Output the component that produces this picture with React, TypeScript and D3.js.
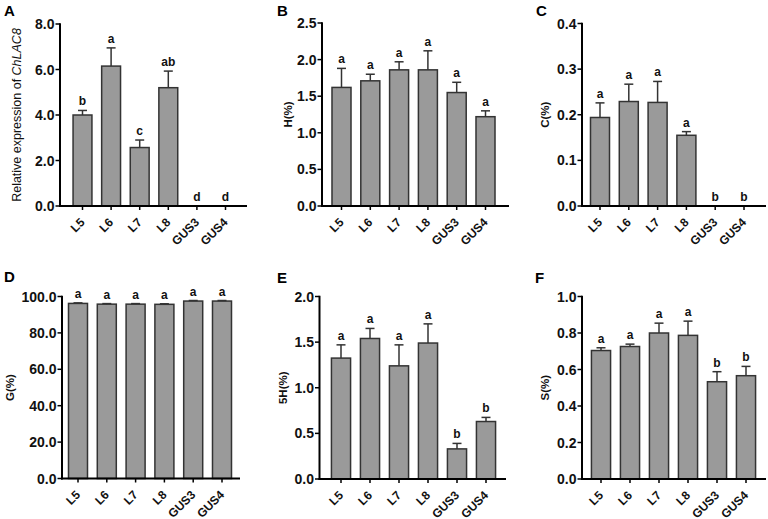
import React from "react";
import * as d3 from "d3";

const categories = ["L5", "L6", "L7", "L8", "GUS3", "GUS4"];

const aMeans = [4.0, 6.15, 2.57, 5.2, 0, 0];
const aErrs = [0.2, 0.8, 0.33, 0.73, 0, 0];
const aLetters = ["b", "a", "c", "ab", "d", "d"];
const aTicks = [0, 2, 4, 6, 8];

const bMeans = [1.62, 1.71, 1.86, 1.86, 1.55, 1.22];
const bErrs = [0.26, 0.09, 0.11, 0.26, 0.14, 0.08];
const bLetters = ["a", "a", "a", "a", "a", "a"];
const bTicks = [0, 0.5, 1.0, 1.5, 2.0, 2.5];

const cMeans = [0.194, 0.229, 0.227, 0.155, 0, 0];
const cErrs = [0.032, 0.038, 0.046, 0.008, 0, 0];
const cLetters = ["a", "a", "a", "a", "b", "b"];
const cTicks = [0, 0.1, 0.2, 0.3, 0.4];

const dMeans = [96.2, 95.8, 95.8, 95.7, 97.5, 97.5];
const dErrs = [0.3, 0.3, 0.3, 0.3, 0.3, 0.3];
const dLetters = ["a", "a", "a", "a", "a", "a"];
const dTicks = [0, 20, 40, 60, 80, 100];

const eMeans = [1.325, 1.54, 1.24, 1.49, 0.33, 0.63];
const eErrs = [0.145, 0.11, 0.23, 0.21, 0.06, 0.045];
const eLetters = ["a", "a", "a", "a", "b", "b"];
const eTicks = [0, 0.5, 1.0, 1.5, 2.0];

const fMeans = [0.704, 0.726, 0.8, 0.787, 0.533, 0.566];
const fErrs = [0.015, 0.013, 0.054, 0.078, 0.055, 0.051];
const fLetters = ["a", "a", "a", "a", "b", "b"];
const fTicks = [0, 0.2, 0.4, 0.6, 0.8, 1.0];

const FONT = "'Liberation Sans', Arial, sans-serif";
const BAR_FILL = "#9a9a9a";
const BAR_STROKE = "#333333";

type PanelProps = {
  label: string;
  title: React.ReactNode;
  means: number[];
  errs: number[];
  letters: string[];
  ticks: number[];
  axisX: number;
  axisEnd: number;
  yTop: number;
  yBottom: number;
  firstCenter: number;
  step: number;
  titleX: number;
  titleSize: number;
  titleWeight: string;
  labelX: number;
  labelY: number;
};

function Panel(p: PanelProps) {
  const maxV = p.ticks[p.ticks.length - 1];
  const y = d3.scaleLinear().domain([0, maxV]).range([p.yBottom, p.yTop]);
  const start = p.firstCenter - p.step / 2;
  const x = d3
    .scaleBand<string>()
    .domain(categories)
    .range([start, start + p.step * categories.length])
    .paddingInner(0.34)
    .paddingOuter(0.17);
  const bw = x.bandwidth();
  const fmt = d3.format(".1f");
  const capHalf = 4.5;
  return (
    <g fontFamily={FONT}>
      <text x={p.labelX} y={p.labelY} fontSize={15} fontWeight="bold" fill="#000">
        {p.label}
      </text>
      {categories.map((c, i) => {
        const cx = (x(c) as number) + bw / 2;
        const m = p.means[i];
        const e = p.errs[i];
        const top = y(m);
        const et = y(m + e);
        return (
          <g key={c}>
            {m > 0 && (
              <rect
                x={x(c) as number}
                y={top}
                width={bw}
                height={p.yBottom - top}
                fill={BAR_FILL}
                stroke={BAR_STROKE}
                strokeWidth={1.5}
              />
            )}
            {e > 0 && (
              <g stroke={BAR_STROKE} strokeWidth={1.5}>
                <line x1={cx} x2={cx} y1={top} y2={et} />
                <line x1={cx - capHalf} x2={cx + capHalf} y1={et} y2={et} />
              </g>
            )}
            <text
              x={cx}
              y={(m > 0 ? et : p.yBottom) - 5}
              textAnchor="middle"
              fontSize={12}
              fontWeight="bold"
              fill="#111"
            >
              {p.letters[i]}
            </text>
            <line x1={cx} x2={cx} y1={p.yBottom} y2={p.yBottom + 4} stroke="#000" strokeWidth={1.5} />
            <text
              transform={`translate(${cx + 3},${p.yBottom + 17}) rotate(-45)`}
              textAnchor="end"
              fontSize={12}
              fontWeight="bold"
              fill="#111"
            >
              {c}
            </text>
          </g>
        );
      })}
      {p.ticks.map((t) => (
        <g key={t}>
          <line x1={p.axisX - 4.5} x2={p.axisX} y1={y(t)} y2={y(t)} stroke="#000" strokeWidth={1.5} />
          <text
            x={p.axisX - 5.5}
            y={y(t)}
            dy="0.36em"
            textAnchor="end"
            fontSize={14}
            fontWeight="bold"
            fill="#111"
          >
            {fmt(t)}
          </text>
        </g>
      ))}
      <line x1={p.axisX} x2={p.axisX} y1={p.yTop - 0.75} y2={p.yBottom + 1} stroke="#000" strokeWidth={2} />
      <line x1={p.axisX - 1} x2={p.axisEnd} y1={p.yBottom} y2={p.yBottom} stroke="#000" strokeWidth={2} />
      <text
        transform={`translate(${p.titleX},${(p.yTop + p.yBottom) / 2}) rotate(-90)`}
        textAnchor="middle"
        dy="0.36em"
        fontSize={p.titleSize}
        fontWeight={p.titleWeight}
        fill="#111"
      >
        {p.title}
      </text>
    </g>
  );
}

export default function App() {
  return (
    <svg width={768} height={519} style={{ position: "absolute", left: 0, top: 0, background: "#fff" }}>
      <rect width={768} height={519} fill="#fff" />
      <Panel
        label="A"
        title={
          <>
            Relative expression of <tspan fontStyle="italic">ChLAC8</tspan>
          </>
        }
        means={aMeans}
        errs={aErrs}
        letters={aLetters}
        ticks={aTicks}
        axisX={60}
        axisEnd={247}
        yTop={24}
        yBottom={206}
        firstCenter={82.5}
        step={28.6}
        titleX={16}
        titleSize={12.5}
        titleWeight="normal"
        labelX={4}
        labelY={16}
      />
      <Panel
        label="B"
        title="H(%)"
        means={bMeans}
        errs={bErrs}
        letters={bLetters}
        ticks={bTicks}
        axisX={322}
        axisEnd={509}
        yTop={23}
        yBottom={206}
        firstCenter={341.5}
        step={28.8}
        titleX={288}
        titleSize={11.5}
        titleWeight="bold"
        labelX={277}
        labelY={16}
      />
      <Panel
        label="C"
        title="C(%)"
        means={cMeans}
        errs={cErrs}
        letters={cLetters}
        ticks={cTicks}
        axisX={582}
        axisEnd={766}
        yTop={23.5}
        yBottom={206}
        firstCenter={600}
        step={28.8}
        titleX={545}
        titleSize={11.5}
        titleWeight="bold"
        labelX={536}
        labelY={16}
      />
      <Panel
        label="D"
        title="G(%)"
        means={dMeans}
        errs={dErrs}
        letters={dLetters}
        ticks={dTicks}
        axisX={62}
        axisEnd={240}
        yTop={296.5}
        yBottom={478.5}
        firstCenter={78}
        step={28.8}
        titleX={10}
        titleSize={11.5}
        titleWeight="bold"
        labelX={4}
        labelY={282}
      />
      <Panel
        label="E"
        title="5H(%)"
        means={eMeans}
        errs={eErrs}
        letters={eLetters}
        ticks={eTicks}
        axisX={319.5}
        axisEnd={506}
        yTop={296.5}
        yBottom={479}
        firstCenter={341}
        step={29}
        titleX={283}
        titleSize={11.5}
        titleWeight="bold"
        labelX={277}
        labelY={283}
      />
      <Panel
        label="F"
        title="S(%)"
        means={fMeans}
        errs={fErrs}
        letters={fLetters}
        ticks={fTicks}
        axisX={582}
        axisEnd={766}
        yTop={296.5}
        yBottom={479}
        firstCenter={601}
        step={29}
        titleX={545}
        titleSize={11.5}
        titleWeight="bold"
        labelX={535}
        labelY={283}
      />
    </svg>
  );
}
